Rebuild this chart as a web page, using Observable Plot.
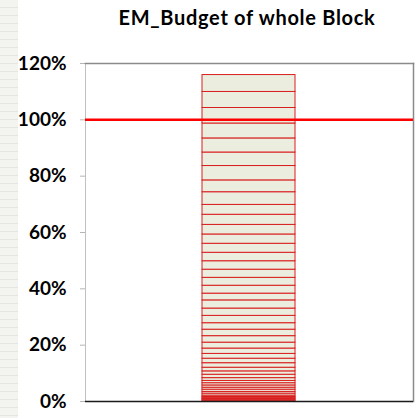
<!DOCTYPE html>
<html>
<head>
<meta charset="utf-8">
<script src="https://cdn.jsdelivr.net/npm/d3@7"></script>
<script src="https://cdn.jsdelivr.net/npm/@observablehq/plot@0.6"></script>
<style>
  html, body { margin: 0; padding: 0; background: #fff; }
  #wrap { position: relative; width: 417px; height: 418px; overflow: hidden; }
  #strip {
    position: absolute; left: 0; top: 0; width: 18px; height: 418px;
    background: repeating-linear-gradient(to bottom, #f3f3ef 0px, #f3f3ef 7px, #e6e6e0 7px, #e6e6e0 8px);
  }
  #title {
    position: absolute; left: 0; top: 5px; width: 494px; text-align: center;
    font-family: Lato, "Open Sans", sans-serif; font-weight: 700; font-size: 20px;
    letter-spacing: 0.7px; color: #000;
  }
  #chart { position: absolute; left: 0; top: 0; }
</style>
</head>
<body>
<div id="wrap">
  <div id="strip"></div>
  <div id="chart"></div>
  <div id="title">EM_Budget of whole Block</div>
</div>
<script>
// Budget shares of the block's components, stacked from the bottom up (percent)
const category = "Block";
const shares = [
  0.25, 0.25, 0.4, 0.3, 0.4, 0.5, 0.7, 0.6, 0.8, 0.7,
  0.8, 0.8, 0.8, 1.0, 1.2, 1.2, 1.3, 1.6, 1.6, 1.7,
  1.9, 2.1, 2.3, 2.3, 2.3, 2.6, 2.6, 2.9, 2.4, 2.8,
  2.8, 2.9, 3.0, 3.0, 3.2, 3.3, 3.4, 3.6, 3.5, 4.5,
  4.2, 5.1, 4.8, 5.0, 5.3, 5.5, 5.7, 6.0
];
const yTicks = [0, 20, 40, 60, 80, 100, 120];
const target = [100];

const rows = shares.map((v, i) => ({cat: category, part: i, value: v}));

const chart = Plot.plot({
  width: 417,
  height: 418,
  marginLeft: 85,
  marginRight: 4,
  marginTop: 63,
  marginBottom: 17,
  style: {fontFamily: "Lato, 'Open Sans', sans-serif", fontSize: "19px", fontWeight: 700, color: "#000", background: "transparent"},
  x: {domain: [category], padding: 0.555, axis: null},
  y: {domain: [0, 120], ticks: yTicks, tickFormat: d => d + "%", label: null},
  marks: [
    Plot.axisY({ticks: yTicks, tickFormat: d => d + "%", tickSize: 5, tickPadding: 14, stroke: "#b5b5b5", fill: "#000", label: null}),
    Plot.barY(rows, {x: "cat", y: "value", fill: "#ebeedf", stroke: "#d81e1e", strokeWidth: 1}),
    Plot.frame({anchor: "left", stroke: "#c0c0c0"}),
    Plot.frame({anchor: "top", stroke: "#8a8a8a", strokeWidth: 1.5}),
    Plot.frame({anchor: "right", stroke: "#8a8a8a", strokeWidth: 1.5}),
    Plot.ruleY([0], {stroke: "#1a1a1a", strokeWidth: 1.5}),
    Plot.ruleY(target, {stroke: "#ff0000", strokeWidth: 2.5})
  ]
});
document.getElementById("chart").appendChild(chart);
</script>
</body>
</html>
